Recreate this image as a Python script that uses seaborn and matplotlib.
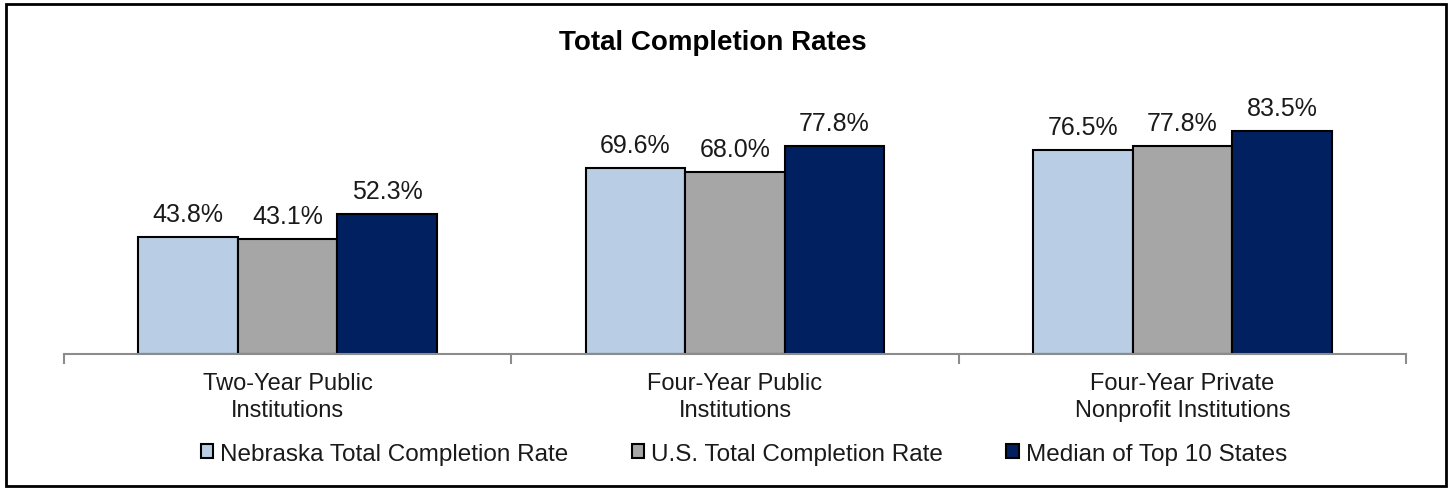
import matplotlib
matplotlib.use("Agg")
import matplotlib.pyplot as plt
from matplotlib.patches import Rectangle, Patch
import seaborn as sns
import pandas as pd

categories = ["Two-Year Public\nInstitutions", "Four-Year Public\nInstitutions",
              "Four-Year Private\nNonprofit Institutions"]
series_names = ["Nebraska Total Completion Rate", "U.S. Total Completion Rate",
                "Median of Top 10 States"]
nebraska = [43.8, 69.6, 76.5]
us = [43.1, 68.0, 77.8]
top10 = [52.3, 77.8, 83.5]
colors = ["#B9CDE5", "#A6A6A6", "#002060"]

rows = []
for name, vals in zip(series_names, [nebraska, us, top10]):
    for c, v in zip(categories, vals):
        rows.append({"Category": c, "Series": name, "Value": v})
df = pd.DataFrame(rows)

sns.set_theme(style="white")
plt.rcParams["font.family"] = ["Liberation Sans", "DejaVu Sans"]

fig = plt.figure(figsize=(14.49, 4.89), dpi=100)
ax = fig.add_axes([64/1449, 1-355/489, (1406-64)/1449, (355-88)/489])

sns.barplot(data=df, x="Category", y="Value", hue="Series", order=categories,
            hue_order=series_names, palette=colors, width=0.668, ax=ax,
            edgecolor="black", linewidth=1.5, legend=False, saturation=1)

for cont in ax.containers:
    ax.bar_label(cont, labels=[f"{v:.1f}%" for v in cont.datavalues],
                 padding=8, fontsize=18, color="#1a1a1a")

ax.set_ylim(0, 100)
ax.set_xlim(-0.5, 2.5)
ax.set_xlabel("")
ax.set_ylabel("")
ax.set_yticks([])
for s in ["top", "right", "left"]:
    ax.spines[s].set_visible(False)
ax.spines["bottom"].set_color("#8c8c8c")
ax.spines["bottom"].set_linewidth(1.5)
ax.set_xticks([0, 1, 2])
ax.set_xticklabels(categories, fontsize=17, color="#1a1a1a", linespacing=1.3)
ax.tick_params(axis="x", which="major", length=0, pad=13)
ax.set_xticks([-0.5, 0.5, 1.5, 2.5], minor=True)
ax.tick_params(axis="x", which="minor", length=7, width=1.5, color="#8c8c8c",
               direction="out", bottom=True)

fig.suptitle("Total Completion Rates", x=713/1449, y=1-43/489, va="center",
             fontsize=20, fontweight="bold", color="black")

handles = [Patch(facecolor=c, edgecolor="black", linewidth=1.5) for c in colors]
fig.legend(handles, series_names, loc="center", bbox_to_anchor=(744/1449, 1-455/489),
           ncol=3, frameon=False, fontsize=17.5, handlelength=0.5, handleheight=0.5,
           handletextpad=0.3, columnspacing=2.6, labelcolor="#1a1a1a")

fig.patches.append(Rectangle((6/1449, 1-487/489), (1446-6)/1449, (487-5)/489,
                             transform=fig.transFigure, fill=False,
                             edgecolor="black", linewidth=2))

fig.savefig("out.png", dpi=100)
